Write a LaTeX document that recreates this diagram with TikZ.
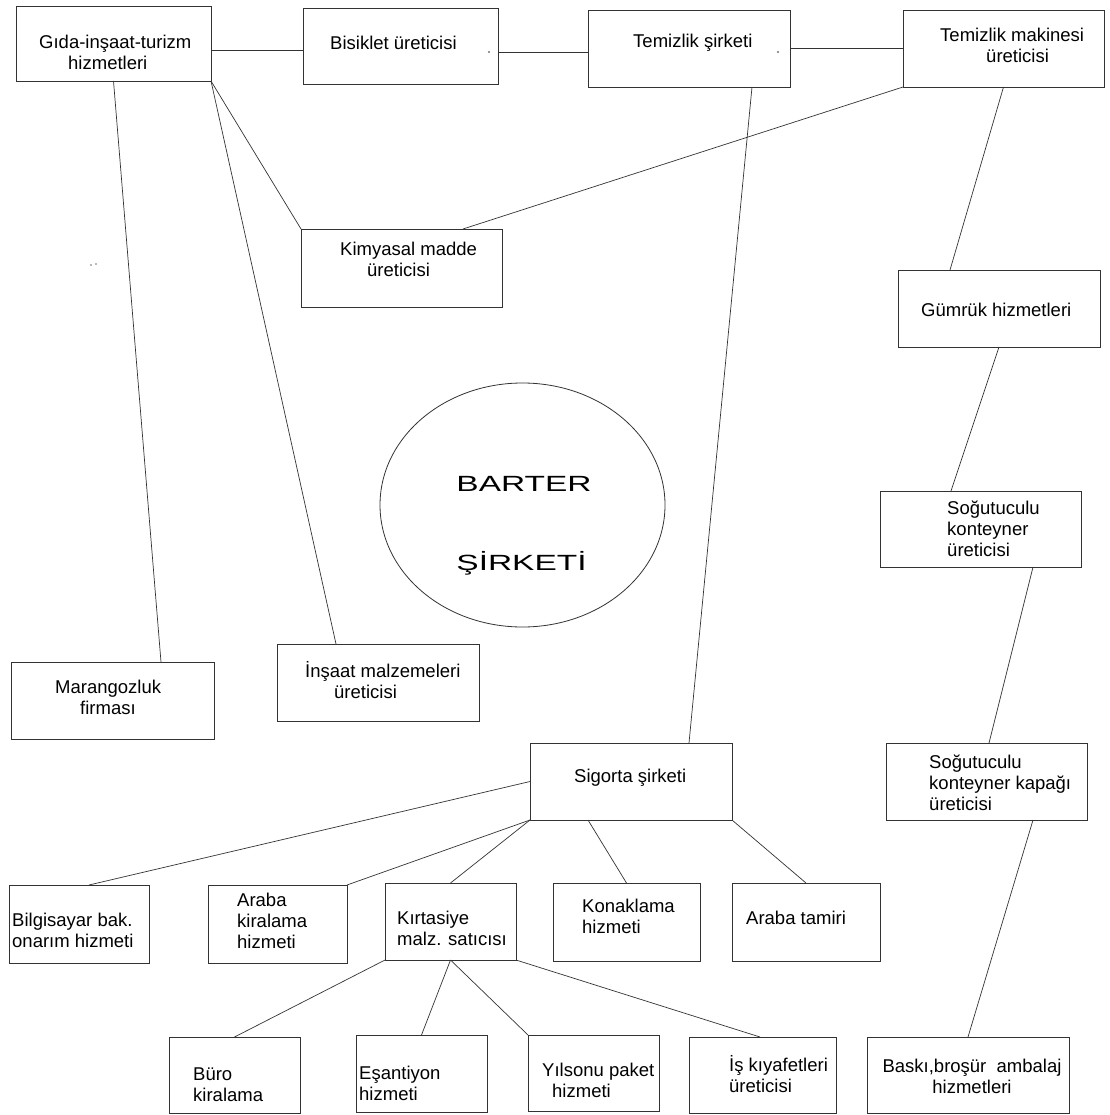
\documentclass[tikz,border=0pt]{standalone}
\usepackage{fontspec}
\setmainfont{Liberation Sans}
\usetikzlibrary{shapes.geometric}

\tikzset{
  boxst/.style={rectangle, draw=black!80, line width=0.8pt, inner sep=0pt, outer sep=0pt},
  lbl/.style={inner sep=0pt, align=left, anchor=west, font=\fontsize{18.5}{21}\selectfont},
  link/.style={draw=black!80, line width=0.7pt},
  speck/.style={fill=black!55},
  wide/.style={anchor=base, inner sep=0pt, font=\fontsize{22}{25}\selectfont},
}
% box given by its corners (x1,y1) and (x2,y2)
\newcommand\placebox[5]{%
  \node[boxst, minimum width={(#4)-(#2)}, minimum height={(#5)-(#3)}]
    (#1) at ({((#2)+(#4))/2},{((#3)+(#5))/2}) {};}
% horizontally widened capitals for the central title
\newcommand\widecaps[1]{\scalebox{1.52}[1]{#1}}

\begin{document}
\begin{tikzpicture}[x=1pt, y=-1pt]
\useasboundingbox[fill=white] (0,0) rectangle (1109,1115);

% boxes
\placebox{gida}{16}{6}{211}{81}
\placebox{bisiklet}{303}{8}{498}{84}
\placebox{temizlik}{588}{10}{790}{87}
\placebox{makine}{903}{10}{1104}{87}
\placebox{kimya}{301}{229}{502}{307}
\placebox{gumruk}{898}{270}{1100}{347}
\placebox{sogut}{880}{491}{1081}{567}
\placebox{kapak}{886}{743}{1087}{820}
\placebox{marangoz}{11}{662}{214}{739}
\placebox{insaat}{277}{644}{479}{721}
\placebox{sigorta}{530}{743}{732}{820}
\placebox{bilgisayar}{9}{885}{149}{963}
\placebox{kiralama}{208}{885}{347}{963}
\placebox{kirtasiye}{385}{883}{516}{960}
\placebox{konak}{553}{883}{700}{961}
\placebox{tamir}{732}{883}{880}{961}
\placebox{buro}{169}{1037}{300}{1113}
\placebox{esant}{356}{1035}{487}{1112}
\placebox{yilsonu}{528}{1035}{659}{1111}
\placebox{is}{689}{1037}{836}{1113}
\placebox{baski}{867}{1037}{1069}{1113}

% central company
\node[ellipse, draw=black!80, line width=0.8pt, inner sep=0pt,
      minimum width=285, minimum height=244] (barter) at (522.5,505) {};
\node[wide] (tbarter) at (524,491) {\widecaps{BARTER}};
\node[wide] (tsirketi) at (521.5,570) {\widecaps{ŞİRKETİ}};

% box labels
\node[lbl] (tgida) at (39,52) {Gıda-inşaat-turizm\\\hspace*{29pt}hizmetleri};
\node[lbl] (tbis) at (330,43) {Bisiklet üreticisi};
\node[lbl] (ttem) at (633,43) {Temizlik şirketi};
\node[lbl] (tmak) at (940,45) {Temizlik makinesi\\\hspace*{46pt}üreticisi};
\node[lbl] (tkim) at (340,259) {Kimyasal madde\\\hspace*{27pt}üreticisi};
\node[lbl] (tgum) at (921,310) {Gümrük hizmetleri};
\node[lbl] (tsog) at (947,529) {Soğutuculu\\konteyner\\üreticisi};
\node[lbl] (tkap) at (929,783) {Soğutuculu\\konteyner kapağı\\üreticisi};
\node[lbl] (tmar) at (55,697) {Marangozluk\\\hspace*{25pt}firması};
\node[lbl] (tins) at (305,680) {İnşaat malzemeleri\\\hspace*{29pt}üreticisi};
\node[lbl] (tsig) at (574,778) {Sigorta şirketi};
\node[lbl] (tbil) at (12,930) {Bilgisayar bak.\\onarım hizmeti};
\node[lbl] (tkir) at (237,921) {Araba\\kiralama\\hizmeti};
\node[lbl] (tkrt) at (397,928) {Kırtasiye\\malz. satıcısı};
\node[lbl] (tkon) at (582,916) {Konaklama\\hizmeti};
\node[lbl] (ttam) at (746,918) {Araba tamiri};
\node[lbl] (tbur) at (193,1085) {Büro\\kiralama};
\node[lbl] (tesa) at (359,1083) {Eşantiyon\\hizmeti};
\node[lbl] (tyil) at (542,1080) {Yılsonu paket\\\hspace*{10pt}hizmeti};
\node[lbl] (tis) at (729,1074) {İş kıyafetleri\\üreticisi};
\node[lbl, align=center, anchor=center] (tbas) at (972,1076) {Baskı,broşür\ \ ambalaj\\hizmetleri};

% stray specks
\fill[speck] (489,52) circle (1.2);
\fill[speck] (778,52) circle (1.2);
\fill[speck] (91,265) circle (0.9);
\fill[speck] (96,264) circle (0.9);

% connectors
\draw[link] ([yshift=-6.5pt]gida.east) -- ([yshift=-4pt]bisiklet.west);
\draw[link] ([yshift=-6pt]bisiklet.east) -- ([yshift=-3.5pt]temizlik.west);
\draw[link] (temizlik.east) -- (makine.west);
\draw[link] ([xshift=63pt]temizlik.south) -- ([xshift=58pt]sigorta.north);
\draw[link] (makine.south west) -- ([xshift=61.5pt]kimya.north);
\draw[link] (makine.south) -- ([xshift=-49pt]gumruk.north);
\draw[link] (gumruk.south) -- ([xshift=-29.5pt]sogut.north);
\draw[link] ([xshift=52.5pt]sogut.south) -- ([xshift=2.5pt]kapak.north);
\draw[link] ([xshift=46.5pt]kapak.south) -- (baski.north);
\draw[link] (gida.south) -- ([xshift=48.5pt]marangoz.north);
\draw[link] (gida.south east) -- (kimya.north west);
\draw[link] (gida.south east) -- ([xshift=-42pt]insaat.north);
\draw[link] (sigorta.west) -- ([xshift=10pt]bilgisayar.north);
\draw[link] (sigorta.south west) -- (kiralama.north east);
\draw[link] (sigorta.south west) -- (kirtasiye.north);
\draw[link] ([xshift=-43pt]sigorta.south) -- (konak.north);
\draw[link] (sigorta.south east) -- (tamir.north);
\draw[link] (kirtasiye.south west) -- (buro.north);
\draw[link] (kirtasiye.south) -- (esant.north);
\draw[link] (kirtasiye.south) -- (yilsonu.north west);
\draw[link] (kirtasiye.south east) -- ([xshift=-2.5pt]is.north);
\end{tikzpicture}
\end{document}
